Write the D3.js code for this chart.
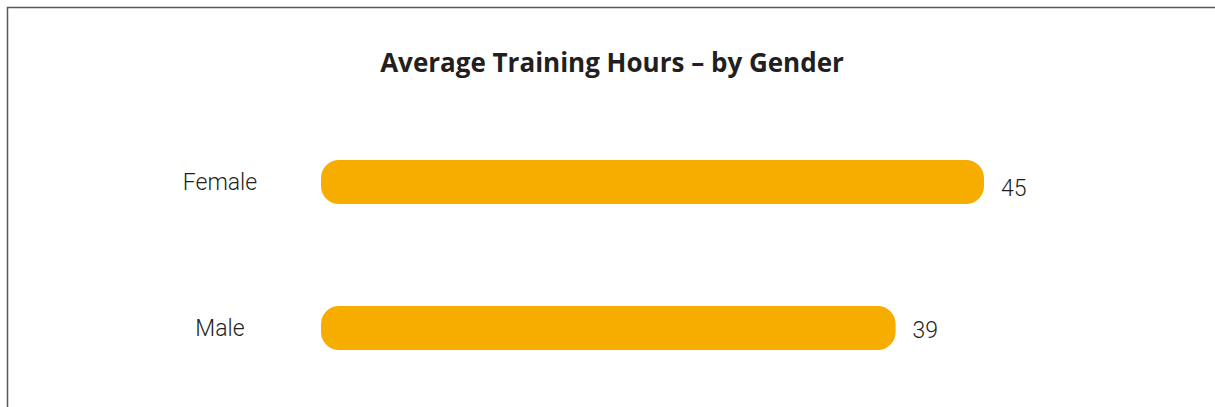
<!DOCTYPE html>
<html>
<head>
<meta charset="utf-8">
<script src="https://cdn.jsdelivr.net/npm/d3@7"></script>
<style>
  html, body { margin: 0; padding: 0; background: #fff; }
  svg { display: block; }
</style>
</head>
<body>
<svg id="chart" width="1215" height="407"></svg>
<script>
const categories = ["Female", "Male"]
const hours = [45, 39]
const title = "Average Training Hours \u2013 by Gender"

const svg = d3.select("#chart")
const barColor = "#f7ac00"
const textColor = "#231f20"
const barHeight = 44

// frame, only top and left edges show in the crop
svg.append("rect")
  .attr("x", 7.5)
  .attr("y", 7.5)
  .attr("width", 1300)
  .attr("height", 500)
  .attr("fill", "none")
  .attr("stroke", "#58585a")
  .attr("stroke-width", 1.5)

svg.append("text")
  .attr("x", 612)
  .attr("y", 72)
  .attr("text-anchor", "middle")
  .style("font-family", "'Open Sans', sans-serif")
  .style("font-weight", "bold")
  .style("font-size", "26px")
  .style("fill", textColor)
  .text(title)

const x = d3.scaleLinear().domain([0, 45]).range([321, 984])
const y = d3.scalePoint().domain(categories).range([182, 328])

const rows = categories.map((c, i) => ({ name: c, value: hours[i] }))

svg.selectAll("rect.bar")
  .data(rows)
  .enter().append("rect")
  .attr("class", "bar")
  .attr("x", x(0))
  .attr("y", d => y(d.name) - barHeight / 2)
  .attr("width", d => x(d.value) - x(0))
  .attr("height", barHeight)
  .attr("rx", 18)
  .attr("ry", 18)
  .attr("fill", barColor)

svg.selectAll("text.cat")
  .data(rows)
  .enter().append("text")
  .attr("class", "cat")
  .attr("x", 220)
  .attr("y", d => y(d.name) + 8)
  .attr("text-anchor", "middle")
  .style("font-family", "Roboto, sans-serif")
  .style("font-weight", 300)
  .style("font-size", "23px")
  .style("fill", textColor)
  .text(d => d.name)

svg.selectAll("text.val")
  .data(rows)
  .enter().append("text")
  .attr("class", "val")
  .attr("x", d => x(d.value) + 17)
  .attr("y", (d, i) => y(d.name) + (i == 0 ? 14 : 10))
  .style("font-family", "Roboto, sans-serif")
  .style("font-weight", 300)
  .style("font-size", "23px")
  .style("fill", textColor)
  .text(d => d.value)
</script>
</body>
</html>
